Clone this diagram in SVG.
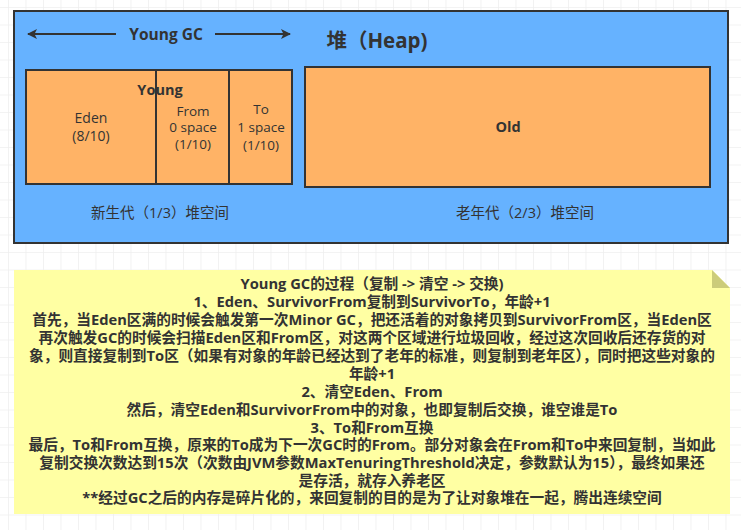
<svg xmlns="http://www.w3.org/2000/svg" width="741" height="530" viewBox="0 0 741 530">
<defs>
<pattern id="grid" x="8" y="7" width="17.5" height="17.5" patternUnits="userSpaceOnUse">
<path d="M0 0H17.5M0 0V17.5" fill="none" stroke="#efefef" stroke-width="1.5"/>
</pattern>
<marker id="ah" viewBox="0 0 10 10" refX="9" refY="5" markerWidth="5" markerHeight="5" orient="auto-start-reverse" markerUnits="strokeWidth">
<path d="M0 0L10 5L0 10L2.5 5Z" fill="#333"/>
</marker>
</defs>
<style>
.box{stroke:#333;stroke-width:2}
.org{fill:#FFB366}
.cj{font-family:"Open Sans","Noto Sans CJK SC",sans-serif;fill:#333;text-anchor:middle}
.b{font-weight:bold}
.note{font-family:"Open Sans","Noto Sans CJK SC",sans-serif;font-weight:bold;font-size:14.7px;fill:#333;text-anchor:middle}
</style>
<rect width="741" height="530" fill="#ffffff"/>
<rect width="741" height="530" fill="url(#grid)"/>
<g id="heap">
<rect class="box" x="14" y="11" width="714" height="232" fill="#66B2FF"/>
<text class="cj b" x="377" y="48" font-size="20.5">堆（Heap)</text>
</g>
<g id="eden">
<rect class="box org" x="26" y="70" width="130" height="114"/>
<text class="cj" x="91" y="123" font-size="14">Eden</text>
<text class="cj" x="91" y="141" font-size="14">(8/10)</text>
</g>
<g id="from">
<rect class="box org" x="156" y="70" width="73" height="114"/>
<text class="cj" x="193" y="116" font-size="13.5">From</text>
<text class="cj" x="193" y="132" font-size="13.5">0 space</text>
<text class="cj" x="193" y="149" font-size="13.5">(1/10)</text>
</g>
<g id="to">
<rect class="box org" x="229" y="70" width="63" height="114"/>
<text class="cj" x="261" y="114" font-size="13.5">To</text>
<text class="cj" x="261" y="132" font-size="13.5">1 space</text>
<text class="cj" x="261" y="150" font-size="13.5">(1/10)</text>
</g>
<g id="young-label">
<text class="cj b" x="160" y="95" font-size="14.5">Young</text>
</g>
<g id="old">
<rect class="box org" x="305" y="67" width="405" height="120"/>
<text class="cj b" x="508" y="132" font-size="14.5">Old</text>
</g>
<g id="labels">
<text class="cj" x="160" y="218" font-size="14.5">新生代（1/3）堆空间</text>
<text class="cj" x="525" y="218" font-size="14.5">老年代（2/3）堆空间</text>
</g>
<g id="connectors">
<line x1="116" y1="34" x2="28" y2="34" stroke="#333" stroke-width="2" marker-end="url(#ah)"/>
<line x1="215" y1="34" x2="290" y2="34" stroke="#333" stroke-width="2" marker-end="url(#ah)"/>
<text class="cj b" x="166" y="39.5" font-size="15.5">Young GC</text>
</g>
<g id="note">
<path d="M14 270H712L730 288V514H14Z" fill="#FFFFA3"/>
<path d="M712 270V288H730Z" fill="#CCCC7A"/>
<text class="note" x="372" y="289">Young GC的过程（复制 -&gt; 清空 -&gt; 交换)</text>
<text class="note" x="372" y="307">1、Eden、SurvivorFrom复制到SurvivorTo，年龄+1</text>
<text class="note" x="372" y="325">首先，当Eden区满的时候会触发第一次Minor GC，把还活着的对象拷贝到SurvivorFrom区，当Eden区</text>
<text class="note" x="372" y="343">再次触发GC的时候会扫描Eden区和From区，对这两个区域进行垃圾回收，经过这次回收后还存货的对</text>
<text class="note" x="372" y="361">象，则直接复制到To区（如果有对象的年龄已经达到了老年的标准，则复制到老年区），同时把这些对象的</text>
<text class="note" x="372" y="379">年龄+1</text>
<text class="note" x="372" y="397">2、清空Eden、From</text>
<text class="note" x="372" y="415">然后，清空Eden和SurvivorFrom中的对象，也即复制后交换，谁空谁是To</text>
<text class="note" x="372" y="433">3、To和From互换</text>
<text class="note" x="372" y="450">最后，To和From互换，原来的To成为下一次GC时的From。部分对象会在From和To中来回复制，当如此</text>
<text class="note" x="372" y="468">复制交换次数达到15次（次数由JVM参数MaxTenuringThreshold决定，参数默认为15），最终如果还</text>
<text class="note" x="372" y="486">是存活，就存入养老区</text>
<text class="note" x="372" y="503">**经过GC之后的内存是碎片化的，来回复制的目的是为了让对象堆在一起，腾出连续空间</text>
</g>
</svg>
